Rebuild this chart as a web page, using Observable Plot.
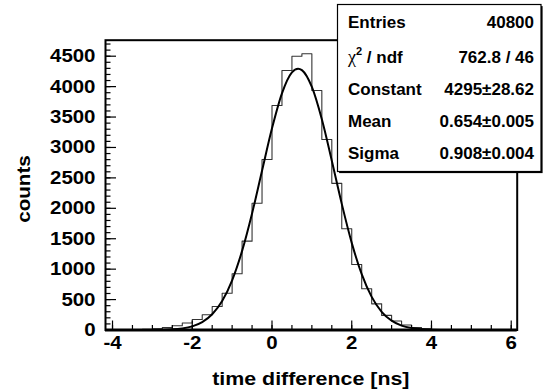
<!DOCTYPE html>
<html><head><meta charset="utf-8">
<script src="https://cdn.jsdelivr.net/npm/d3@7"></script>
<script src="https://cdn.jsdelivr.net/npm/@observablehq/plot@0.6"></script>
<style>
html,body{margin:0;padding:0;background:#fff;}
#chart svg{display:block;}
</style></head><body><div id="chart"></div>
<script>
// Histogram: lower bin edges (ns) and counts, bin width 0.25 ns
const binLow = [-4.25,-4.0,-3.75,-3.5,-3.25,-3.0,-2.75,-2.5,-2.25,-2.0,-1.75,-1.5,-1.25,-1.0,-0.75,-0.5,-0.25,
  0,0.25,0.5,0.75,1.0,1.25,1.5,1.75,2.0,2.25,2.5,2.75,3.0,3.25,3.5,3.75,4.0,4.25,4.5,4.75,5.0,5.25,5.5,5.75,6.0];
const binWidth = 0.25;
const counts = [2,3,4,6,10,18,40,70,115,173,250,386,605,924,1460,2084,2802,
  3690,4265,4500,4540,3937,3131,2410,1663,1077,677,430,240,148,82,40,20,8,5,4,3,2,1,0,0,0];

// Gaussian fit curve
const fitX = [-4.176,-3.0,-2.5,-2.25,-2.0,-1.75,-1.5,-1.25,-1.0,-0.75,-0.5,-0.25,0,0.25,0.5,0.654,0.75,1.0,1.25,1.5,1.75,2.0,2.25,2.5,2.75,3.0,3.25,3.5,3.75,4.0,4.5,6.15];
const fitY = [0,1.3,10.3,25.8,59.9,129,258,476,817,1300,1915,2617,3314,3890,4234,4295,4271,3994,3463,2783,2073,1432,917,544,299,153,72,32,13,5,0.5,0];

// Stats box
const statLabels = ["Entries", "χ", "Constant", "Mean", "Sigma"];
const statValues = ["40800", "762.8 / 46", "4295±28.62", "0.654±0.005", "0.908±0.004"];

// Axes
const xMajor = [-4,-2,0,2,4,6];
const xMinor = [-4,-3.5,-3,-2.5,-2,-1.5,-1,-0.5,0,0.5,1,1.5,2,2.5,3,3.5,4,4.5,5,5.5,6];
const yMajor = [0,500,1000,1500,2000,2500,3000,3500,4000,4500];
const yMinor = [0,100,200,300,400,500,600,700,800,900,1000,1100,1200,1300,1400,1500,1600,1700,1800,1900,2000,
  2100,2200,2300,2400,2500,2600,2700,2800,2900,3000,3100,3200,3300,3400,3500,3600,3700,3800,3900,4000,4100,4200,4300,4400,4500,4600,4700];
const xTitle = "time difference [ns]";
const yTitle = "counts";

const W = 545, H = 392;
const mL = 105, mR = 28.3, mT = 39.7, mB = 62.5;
const frameW = W - mL - mR, frameH = H - mT - mB;

const histPts = binLow.map((x, i) => ({x, y: counts[i]}));
histPts.push({x: binLow[binLow.length - 1] + binWidth, y: counts[counts.length - 1]});
const fitPts = fitX.map((x, i) => ({x, y: fitY[i]}));

const font = "'Liberation Sans', Arial, Helvetica, sans-serif";

const chart = Plot.plot({
  width: W, height: H,
  marginLeft: mL, marginRight: mR, marginTop: mT, marginBottom: mB,
  style: {fontFamily: font, fontSize: "18.6px", fontWeight: "bold", background: "white", color: "black", overflow: "visible"},
  x: {domain: [-4.176, 6.15]},
  y: {domain: [0, 4763]},
  marks: [
    Plot.line(histPts, {x: "x", y: "y", curve: "step-after", stroke: "#333", strokeWidth: 1.1, clip: true}),
    Plot.line(fitPts, {x: "x", y: "y", curve: "monotone-x", stroke: "black", strokeWidth: 2, clip: true}),
    Plot.tickY(yMinor, {y: d => d, insetRight: frameW - 5.5, stroke: "black", strokeWidth: 1.2}),
    Plot.tickY(yMajor, {y: d => d, insetRight: frameW - 11, stroke: "black", strokeWidth: 1.2}),
    Plot.tickX(xMinor, {x: d => d, insetTop: frameH - 4.5, stroke: "black", strokeWidth: 1.2}),
    Plot.tickX(xMajor, {x: d => d, insetTop: frameH - 9, stroke: "black", strokeWidth: 1.2}),
    Plot.axisY({ticks: yMajor, tickSize: 0, tickPadding: 10, tickFormat: d => String(d), label: null}),
    Plot.axisX({ticks: xMajor, tickSize: 0, tickPadding: 5.5, tickFormat: d => String(d), label: null}),
    Plot.frame({stroke: "black", strokeWidth: 2}),
    Plot.ruleY([0], {stroke: "black", strokeWidth: 2.8})
  ]
});
document.getElementById("chart").appendChild(chart);

const svg = d3.select(chart);

function stretch(nodes, factor) {
  nodes.forEach(t => {
    const len = t.getComputedTextLength();
    t.setAttribute("textLength", (len * factor).toFixed(2));
    t.setAttribute("lengthAdjust", "spacingAndGlyphs");
  });
}
stretch(chart.querySelectorAll("g[aria-label='y-axis tick label'] text"), 1.1);
stretch(chart.querySelectorAll("g[aria-label='x-axis tick label'] text"), 1.1);

// axis titles
const xt = svg.append("text").attr("x", (mL + W - mR) / 2).attr("y", 385)
  .attr("text-anchor", "middle").attr("font-size", 18.3).attr("font-weight", "bold")
  .attr("font-family", font).text(xTitle);
stretch([xt.node()], 1.17);
const yt = svg.append("text").attr("transform", "translate(30,189) rotate(-90)")
  .attr("text-anchor", "middle").attr("font-size", 18.3).attr("font-weight", "bold")
  .attr("font-family", font).text(yTitle);
stretch([yt.node()], 1.13);

// stats box
const bx = 337.5, by = 4.5, bw = 203.5, bh = 167;
svg.append("rect").attr("x", bx + 1.6).attr("y", by + 1.6).attr("width", bw).attr("height", bh).attr("fill", "black");
svg.append("rect").attr("x", bx).attr("y", by).attr("width", bw).attr("height", bh)
  .attr("fill", "white").attr("stroke", "black").attr("stroke-width", 1.2);
const rowY = [27.5, 62.5, 94.5, 126.5, 159];
const g = svg.append("g").attr("font-family", font).attr("font-size", 17).attr("font-weight", "bold").attr("fill", "black");
statLabels.forEach((lab, i) => {
  const t = g.append("text").attr("x", 348).attr("y", rowY[i]).attr("text-anchor", "start");
  if (i === 1) {
    t.append("tspan").attr("font-weight", "normal").attr("font-family", "'Liberation Serif', serif").attr("font-size", 18).text(lab);
    t.append("tspan").attr("font-size", 11).attr("dy", -7.5).text("2");
    t.append("tspan").attr("dy", 7.5).text(" / ndf");
  } else {
    t.text(lab);
  }
  g.append("text").attr("x", 534).attr("y", rowY[i]).attr("text-anchor", "end").text(statValues[i]);
});
</script>
</body></html>
